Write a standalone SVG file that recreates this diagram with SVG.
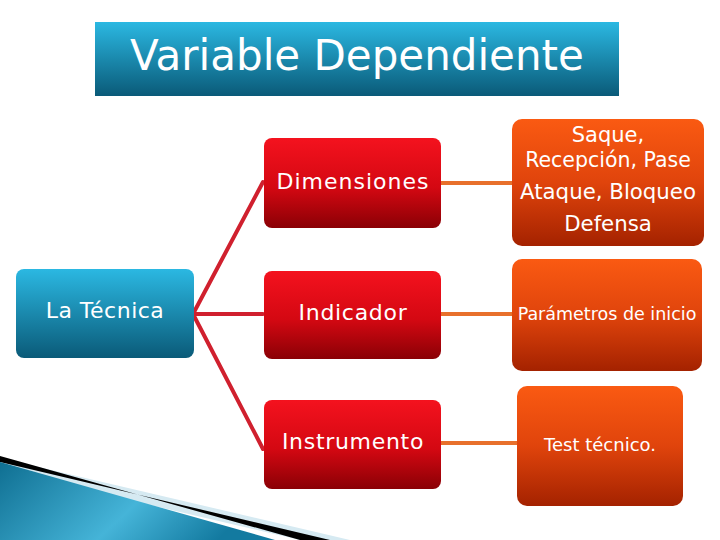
<svg xmlns="http://www.w3.org/2000/svg" width="720" height="540" viewBox="0 0 720 540">
<defs>
<linearGradient id="gBlue" x1="0" y1="0" x2="0" y2="1"><stop offset="0" stop-color="#2bb8e2"/><stop offset="1" stop-color="#0a5a78"/></linearGradient>
<linearGradient id="gRed" x1="0" y1="0" x2="0" y2="1"><stop offset="0" stop-color="#f4121e"/><stop offset="0.55" stop-color="#d40812"/><stop offset="1" stop-color="#8a0005"/></linearGradient>
<linearGradient id="gOr" x1="0" y1="0" x2="0" y2="1"><stop offset="0" stop-color="#fa5a12"/><stop offset="0.5" stop-color="#e0440c"/><stop offset="1" stop-color="#a42200"/></linearGradient>
<linearGradient id="gDeco" x1="0" y1="0" x2="1" y2="0.3"><stop offset="0" stop-color="#0f6f92"/><stop offset="0.6" stop-color="#45b4d8"/><stop offset="1" stop-color="#137aa0"/></linearGradient>
<style>
.t{font-family:"DejaVu Sans","Liberation Sans",sans-serif;fill:#fff;text-anchor:middle}
.red{stroke:#d0202e;stroke-width:4;fill:none;stroke-linecap:round}
.or{stroke:#e8702c;stroke-width:4;fill:none}
</style>
</defs>
<g id="deco">
<polygon points="0,470 0,458 350,540 300,540" fill="#d6eaf2"/>
<polygon points="0,456 0,462 330,540 300,540" fill="#000"/>
<polygon points="0,462 0,540 275,540" fill="url(#gDeco)"/>
</g>
<g id="title">
<rect x="95" y="22" width="524" height="74" fill="url(#gBlue)"/>
<text class="t" x="357" y="70" font-size="42">Variable Dependiente</text>
</g>
<g id="connectors">
<path class="red" d="M193,314 L263,182 M193,314 L263,314 M193,314 L263,449"/>
<path class="or" d="M441,183 L512,183 M441,314 L512,314 M441,443 L517,443"/>
</g>
<g id="tecnica">
<rect x="16" y="269" width="178" height="89" rx="8" fill="url(#gBlue)"/>
<text class="t" x="105" y="318" font-size="22" letter-spacing="0.5">La Técnica</text>
</g>
<g id="dimensiones">
<rect x="264" y="138" width="177" height="90" rx="8" fill="url(#gRed)"/>
<text class="t" x="353" y="189" font-size="22" letter-spacing="1">Dimensiones</text>
</g>
<g id="indicador">
<rect x="264" y="271" width="177" height="88" rx="8" fill="url(#gRed)"/>
<text class="t" x="353" y="320" font-size="22" letter-spacing="0.7">Indicador</text>
</g>
<g id="instrumento">
<rect x="264" y="400" width="177" height="89" rx="8" fill="url(#gRed)"/>
<text class="t" x="353" y="449" font-size="22" letter-spacing="0.7">Instrumento</text>
</g>
<g id="acciones">
<rect x="512" y="119" width="192" height="127" rx="10" fill="url(#gOr)"/>
<text class="t" x="608" y="142" font-size="21">Saque,</text>
<text class="t" x="608" y="167" font-size="20.5">Recepción, Pase</text>
<text class="t" x="608" y="199" font-size="21.3">Ataque, Bloqueo</text>
<text class="t" x="608" y="231" font-size="21.3">Defensa</text>
</g>
<g id="parametros">
<rect x="512" y="259" width="190" height="112" rx="10" fill="url(#gOr)"/>
<text class="t" x="607" y="320" font-size="17.5">Parámetros de inicio</text>
</g>
<g id="test">
<rect x="517" y="386" width="166" height="120" rx="10" fill="url(#gOr)"/>
<text class="t" x="600" y="451" font-size="18">Test técnico.</text>
</g>
</svg>
